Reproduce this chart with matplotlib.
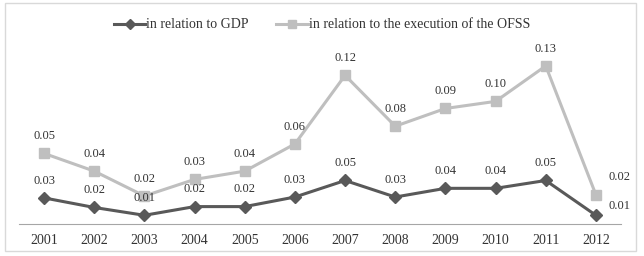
import matplotlib
matplotlib.use("Agg")
import matplotlib.pyplot as plt
from matplotlib.patches import Rectangle

years = ['2001', '2002', '2003', '2004', '2005', '2006',
         '2007', '2008', '2009', '2010', '2011', '2012']
gdp = [0.030, 0.019, 0.010, 0.020, 0.020, 0.031,
       0.050, 0.031, 0.041, 0.041, 0.050, 0.010]
gdp_labels = ['0.03', '0.02', '0.01', '0.02', '0.02', '0.03',
              '0.05', '0.03', '0.04', '0.04', '0.05', '0.01']
ofss = [0.056, 0.041, 0.020, 0.034, 0.041, 0.064,
        0.122, 0.079, 0.094, 0.100, 0.130, 0.021]
ofss_labels = ['0.05', '0.04', '0.02', '0.03', '0.04', '0.06',
               '0.12', '0.08', '0.09', '0.10', '0.13', '0.02']

plt.rcParams['font.family'] = ['Liberation Serif', 'DejaVu Serif']
txt = '#333333'

fig = plt.figure(figsize=(6.44, 2.56), dpi=100)
fig.patches.append(Rectangle((5 / 644, 5 / 256), 631 / 644, 248 / 256,
                             transform=fig.transFigure, fill=False,
                             edgecolor='#d9d9d9', linewidth=1))
ax = fig.add_axes([19 / 644, 32 / 256, 602 / 644, 164 / 256])
ax2 = ax.twinx()
# gdp series and all labels drawn on top
ax.set_zorder(ax2.get_zorder() + 1)
ax.patch.set_visible(False)

x = list(range(len(years)))
l1, = ax.plot(x, gdp, color='#595959', linewidth=2.2, marker='D',
              markersize=6, label='in relation to GDP')
l2, = ax2.plot(x, ofss, color='#bfbfbf', linewidth=2.2, marker='s',
               markersize=7, label='in relation to the execution of the OFSS')

ax.set_ylim(0, 0.1885)
ax2.set_ylim(-0.0037, 0.135)
ax.set_xlim(-0.5, 11.5)

for i, (v, s) in enumerate(zip(gdp, gdp_labels)):
    if i == len(years) - 1:
        ax.annotate(s, (i, v), xytext=(9, 7), textcoords='offset points',
                    ha='left', va='center', fontsize=9, color=txt)
    else:
        ax.annotate(s, (i, v), xytext=(0, 8), textcoords='offset points',
                    ha='center', va='bottom', fontsize=9, color=txt)
for i, (v, s) in enumerate(zip(ofss, ofss_labels)):
    if i == len(years) - 1:
        ax2.annotate(s, (i, v), xytext=(9, 13), textcoords='offset points',
                     ha='left', va='center', fontsize=9, color=txt)
    else:
        ax2.annotate(s, (i, v), xytext=(0, 8), textcoords='offset points',
                     ha='center', va='bottom', fontsize=9, color=txt)

for a in (ax, ax2):
    for side in ('top', 'right', 'left'):
        a.spines[side].set_visible(False)
    a.set_yticks([])
ax2.spines['bottom'].set_visible(False)
ax.spines['bottom'].set_color('#a6a6a6')
ax.set_xticks(x)
ax.set_xticklabels(years, fontsize=10, color=txt)
ax.tick_params(axis='x', length=0, pad=7)

fig.legend(handles=[l1, l2], loc='center', bbox_to_anchor=(0.5, 1 - 25 / 256),
           ncol=2, frameon=False, fontsize=10, handlelength=2.3,
           handletextpad=0.05, columnspacing=2.0, labelcolor=txt,
           markerscale=0.8)

fig.savefig('out.png', dpi=100)
